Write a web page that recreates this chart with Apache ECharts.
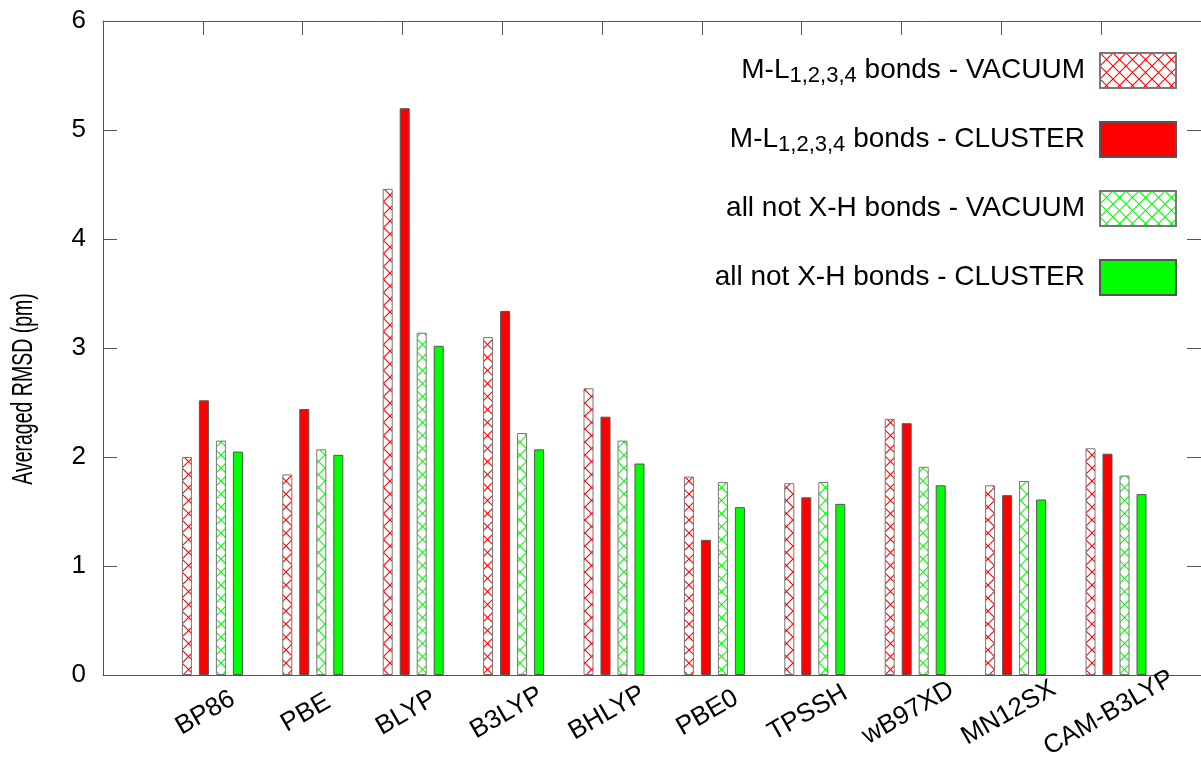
<!DOCTYPE html>
<html>
<head>
<meta charset="utf-8">
<script src="https://cdn.jsdelivr.net/npm/echarts@6/dist/echarts.min.js"></script>
<style>
  html, body { margin: 0; padding: 0; background: #fff; }
  #chart { width: 1201px; height: 762px; }
</style>
</head>
<body>
<div id="chart"></div>
<script>
// Functionals compared
const methods = ['BP86', 'PBE', 'BLYP', 'B3LYP', 'BHLYP', 'PBE0', 'TPSSH', 'wB97XD', 'MN12SX', 'CAM-B3LYP'];

// Averaged RMSD (pm) per functional
const mlVacuum   = [2.00, 1.84, 4.46, 3.10, 2.63, 1.82, 1.76, 2.35, 1.74, 2.08];
const mlCluster  = [2.52, 2.44, 5.20, 3.34, 2.37, 1.24, 1.63, 2.31, 1.65, 2.03];
const allVacuum  = [2.15, 2.07, 3.14, 2.22, 2.15, 1.77, 1.77, 1.91, 1.78, 1.83];
const allCluster = [2.05, 2.02, 3.02, 2.07, 1.94, 1.54, 1.57, 1.74, 1.61, 1.66];

// Series names; the part in _{...} is drawn as a subscript
const seriesNames = [
  'M-L_{1,2,3,4} bonds - VACUUM',
  'M-L_{1,2,3,4} bonds - CLUSTER',
  'all not X-H bonds - VACUUM',
  'all not X-H bonds - CLUSTER'
];

const yMin = 0, yMax = 6, yStep = 1;
const FONT = '"Liberation Sans", Arial, Helvetica, sans-serif';
const FRAME = '#555';

// Cross-hatch fill used by the VACUUM bars
function crossHatch(color) {
  const s = 13;
  const c = document.createElement('canvas');
  c.width = s; c.height = s;
  const g = c.getContext('2d');
  g.fillStyle = '#fff';
  g.fillRect(0, 0, s, s);
  g.strokeStyle = color;
  g.lineWidth = 1.1;
  g.beginPath();
  g.moveTo(0, 0); g.lineTo(s, s);
  g.moveTo(s, 0); g.lineTo(0, s);
  g.stroke();
  return { image: c, repeat: 'repeat' };
}

const chart = echarts.init(document.getElementById('chart'), null, { renderer: 'canvas' });

// Frame: left 103, top 21, plot height 654; x runs -1..10 with 100.4 px per step
const frameLeft = 103, frameTop = 21, plotH = 654, step = 100.4;
const frameWidth = step * 11;
const barsLeft = frameLeft + step - 50.2 + 9;     // bar groups sit slightly right of each tick
const labelsLeft = frameLeft + step - 50.2 + 2;   // labels centred on the ticks

const frameLine = { show: true, onZero: false, lineStyle: { color: FRAME, width: 1 } };
const frameTicks = { show: true, inside: true, length: 14, lineStyle: { color: FRAME, width: 1 } };

function legendLabel(name) {
  const m = name.match(/^(.*?)_\{(.*?)\}(.*)$/);
  if (m) return '{t|' + m[1] + '}{s|' + m[2] + '}{t|' + m[3] + '}';
  return '{t|' + name + '}';
}

function barSeries(name, data, fill, border) {
  return {
    name: name,
    type: 'bar',
    xAxisIndex: 2,
    yAxisIndex: 2,
    data: data,
    barWidth: 10,
    barGap: '70%',
    itemStyle: { color: fill, borderColor: border, borderWidth: 1 },
    emphasis: { disabled: true },
    animation: false
  };
}

const option = {
  backgroundColor: '#fff',
  animation: false,
  grid: [
    { left: frameLeft, top: frameTop, width: frameWidth, height: plotH },
    { left: barsLeft, top: frameTop, width: step * 10, height: plotH },
    { left: labelsLeft, top: frameTop, width: step * 10, height: plotH }
  ],
  xAxis: [
    { // bottom frame line
      type: 'value', gridIndex: 0, position: 'bottom', min: -1, max: 10, interval: 1,
      axisLine: frameLine,
      axisTick: { show: false },
      axisLabel: { show: false }, splitLine: { show: false }
    },
    { // top frame line with inward ticks
      type: 'value', gridIndex: 0, position: 'top', min: -1, max: 10, interval: 1,
      axisLine: frameLine,
      axisTick: frameTicks,
      axisLabel: { show: false }, splitLine: { show: false }
    },
    { // category axis carrying the bars
      type: 'category', gridIndex: 1, data: methods,
      axisLine: { show: false }, axisTick: { show: false },
      axisLabel: { show: false }, splitLine: { show: false }
    },
    { // rotated functional names
      type: 'category', gridIndex: 2, data: methods,
      axisLine: { show: false }, axisTick: { show: false }, splitLine: { show: false },
      axisLabel: {
        show: true, interval: 0, rotate: 30, margin: 45,
        align: 'center', verticalAlign: 'middle',
        fontFamily: FONT, fontSize: 26, color: '#000'
      }
    }
  ],
  yAxis: [
    {
      type: 'value', gridIndex: 0, position: 'left', min: yMin, max: yMax, interval: yStep,
      axisLine: frameLine,
      axisTick: frameTicks,
      axisLabel: { show: true, margin: 17, fontFamily: FONT, fontSize: 26, color: '#000' },
      splitLine: { show: false }
    },
    {
      type: 'value', gridIndex: 0, position: 'right', min: yMin, max: yMax, interval: yStep,
      axisLine: frameLine,
      axisTick: frameTicks,
      axisLabel: { show: false }, splitLine: { show: false }
    },
    {
      type: 'value', gridIndex: 1, min: yMin, max: yMax, interval: yStep, show: false,
      splitLine: { show: false }
    },
    {
      type: 'value', gridIndex: 2, min: yMin, max: yMax, interval: yStep, show: false,
      splitLine: { show: false }
    }
  ],
  legend: {
    orient: 'vertical',
    right: 24,
    top: 52,
    padding: 0,
    align: 'right',
    icon: 'rect',
    itemWidth: 76,
    itemHeight: 35,
    itemGap: 32,
    selectedMode: false,
    data: seriesNames,
    formatter: legendLabel,
    textStyle: {
      padding: [0, 10, 0, 0],
      rich: {
        t: { fontFamily: FONT, fontSize: 28, lineHeight: 30, color: '#000' },
        s: { fontFamily: FONT, fontSize: 22, lineHeight: 22, color: '#000', padding: [11, 0, 0, 0] }
      }
    }
  },
  graphic: [
    {
      type: 'text',
      x: 24, y: 389,
      rotation: Math.PI / 2,
      scaleX: 0.75, scaleY: 1.12,
      style: {
        text: 'Averaged RMSD (pm)',
        fontFamily: FONT, fontSize: 26, fill: '#000',
        textAlign: 'center', textVerticalAlign: 'middle'
      }
    }
  ],
  series: [
    barSeries(seriesNames[0], mlVacuum, crossHatch('#ff0000'), '#777'),
    barSeries(seriesNames[1], mlCluster, '#ff0000', '#555'),
    barSeries(seriesNames[2], allVacuum, crossHatch('#00ff00'), '#777'),
    barSeries(seriesNames[3], allCluster, '#00ff00', '#555')
  ]
};

chart.setOption(option);
</script>
</body>
</html>
